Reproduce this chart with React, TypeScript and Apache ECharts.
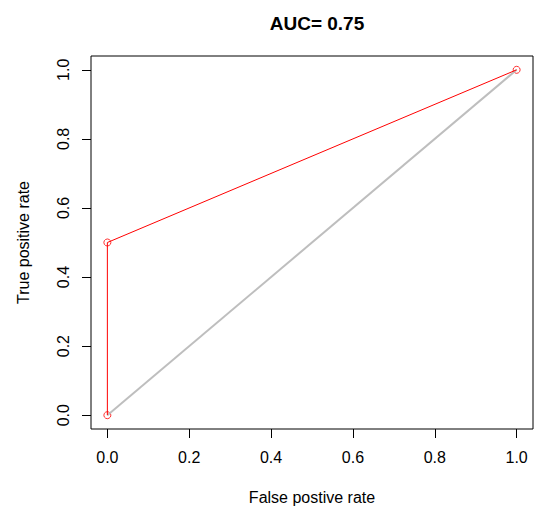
import React, { useEffect, useRef } from "react";
import * as echarts from "echarts";

const titleText = "AUC= 0.75";
const xName = "False postive rate";
const yName = "True positive rate";
const tickValues = [0, 0.2, 0.4, 0.6, 0.8, 1.0];
const fpr = [0, 0, 1];
const tpr = [0, 0.5, 1];
const diagX = [0, 1];
const diagY = [0, 1];

const FONT = "'Liberation Sans', Arial, sans-serif";

export default function App() {
  const ref = useRef<HTMLDivElement>(null);
  useEffect(() => {
    if (!ref.current) return;
    const chart = echarts.init(ref.current, null, { renderer: "svg" });
    const axisCommon = {
      type: "value" as const,
      min: -0.04,
      max: 1.04,
      splitLine: { show: false },
      axisLine: { show: false, onZero: false },
      axisTick: {
        show: true,
        inside: false,
        length: 9,
        customValues: tickValues,
        lineStyle: { color: "#000", width: 1 },
      },
      axisLabel: {
        customValues: tickValues,
        formatter: (v: number) => v.toFixed(1),
        color: "#000",
        fontFamily: FONT,
        fontSize: 16,
        margin: 20,
      },
      nameLocation: "middle" as const,
      nameTextStyle: { color: "#000", fontFamily: FONT, fontSize: 16 },
    };
    const pts = fpr.map((x, i) => [x, tpr[i]]);
    chart.setOption({
      animation: false,
      backgroundColor: "#fff",
      title: {
        text: titleText,
        left: 312,
        top: 9,
        textAlign: "center",
        textStyle: {
          fontFamily: FONT,
          fontSize: 19,
          fontWeight: "bold",
          color: "#000",
        },
      },
      grid: {
        left: 91,
        top: 56,
        width: 442,
        height: 376,
        show: true,
        borderColor: "#000",
        borderWidth: 1,
        backgroundColor: "transparent",
      },
      xAxis: { ...axisCommon, name: xName, nameGap: 60 },
      yAxis: {
        ...axisCommon,
        name: yName,
        nameGap: 60,
        nameRotate: 90,
        axisLabel: { ...axisCommon.axisLabel, rotate: 90 },
      },
      series: [
        {
          type: "line",
          data: diagX.map((x, i) => [x, diagY[i]]),
          symbol: "none",
          lineStyle: { color: "#bebebe", width: 2 },
          silent: true,
        },
        {
          type: "line",
          data: pts,
          symbol: "none",
          lineStyle: { color: "#ff0000", width: 1 },
          silent: true,
        },
        {
          type: "scatter",
          data: pts,
          symbol: "circle",
          symbolSize: 7,
          itemStyle: { color: "rgba(0,0,0,0)", borderColor: "#ff0000", borderWidth: 1 },
          silent: true,
        },
      ],
    });
    return () => chart.dispose();
  }, []);
  return (
    <div
      ref={ref}
      style={{ position: "fixed", left: 0, top: 0, width: 535, height: 510, background: "#fff" }}
    />
  );
}
